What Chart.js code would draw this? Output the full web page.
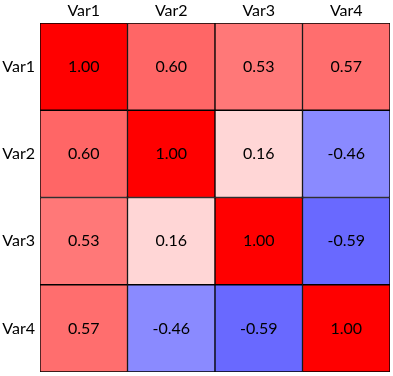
<!DOCTYPE html>
<html>
<head>
<meta charset="utf-8">
<script src="https://cdn.jsdelivr.net/npm/chart.js@4"></script>
<style>
  html, body { margin: 0; padding: 0; background: #fff; }
  #wrap { width: 393px; height: 376px; }
</style>
</head>
<body>
<div id="wrap"><canvas id="chart" width="393" height="376"></canvas></div>
<script>
const variables = ['Var1', 'Var2', 'Var3', 'Var4'];
const corrVar1 = [1.00, 0.60, 0.53, 0.57];
const corrVar2 = [0.60, 1.00, 0.16, -0.46];
const corrVar3 = [0.53, 0.16, 1.00, -0.59];
const corrVar4 = [0.57, -0.46, -0.59, 1.00];
const matrix = [corrVar1, corrVar2, corrVar3, corrVar4];

// white -> red for positive, white -> blue for negative
const cellColor = (v) => {
    const k = Math.round(255 * (1 - Math.abs(v)));
    return v >= 0 ? `rgb(255, ${k}, ${k})` : `rgb(${k}, ${k}, 255)`;
};

const cellLabels = {
    id: 'cellLabels',
    afterDatasetsDraw(chart) {
        const ctx = chart.ctx;
        ctx.save();
        ctx.fillStyle = '#000';
        ctx.font = '16px Lato, sans-serif';
        ctx.textAlign = 'center';
        ctx.textBaseline = 'middle';
        chart.data.datasets.forEach((ds, r) => {
            chart.getDatasetMeta(r).data.forEach((bar, c) => {
                ctx.fillText(matrix[r][c].toFixed(2), bar.x, (bar.y + bar.base) / 2);
            });
        });
        ctx.restore();
    }
};

new Chart(document.getElementById('chart').getContext('2d'), {
    type: 'bar',
    data: {
        labels: variables,
        datasets: matrix.map((row, r) => ({
            label: variables[r],
            data: row.map(() => [r, r + 1]),
            backgroundColor: row.map(cellColor),
            borderColor: '#000',
            borderWidth: 1,
            borderSkipped: false,
            grouped: false,
            categoryPercentage: 1,
            barPercentage: 1
        }))
    },
    options: {
        responsive: false,
        animation: false,
        layout: { padding: { left: 0, top: 0, right: 3, bottom: 4 } },
        plugins: {
            legend: { display: false },
            tooltip: { enabled: false }
        },
        scales: {
            x: {
                position: 'top',
                grid: { display: false, drawTicks: false },
                border: { display: false },
                ticks: { color: '#000', font: { family: 'Lato', size: 16 }, padding: 3 },
                afterFit: (scale) => {
                    scale.height = 23;
                    scale.paddingLeft = 0;
                    scale.paddingRight = 0;
                }
            },
            y: {
                min: 0,
                max: 4,
                reverse: true,
                grid: { display: false, drawTicks: false },
                border: { display: false },
                afterBuildTicks: (scale) => {
                    scale.ticks = variables.map((v, i) => ({ value: i + 0.5 }));
                },
                ticks: {
                    color: '#000',
                    font: { family: 'Lato', size: 16 },
                    padding: 5,
                    callback: (value) => variables[Math.floor(value)]
                },
                afterFit: (scale) => {
                    scale.width = 40;
                    scale.paddingTop = 0;
                    scale.paddingBottom = 0;
                }
            }
        }
    },
    plugins: [cellLabels]
});
</script>
</body>
</html>
